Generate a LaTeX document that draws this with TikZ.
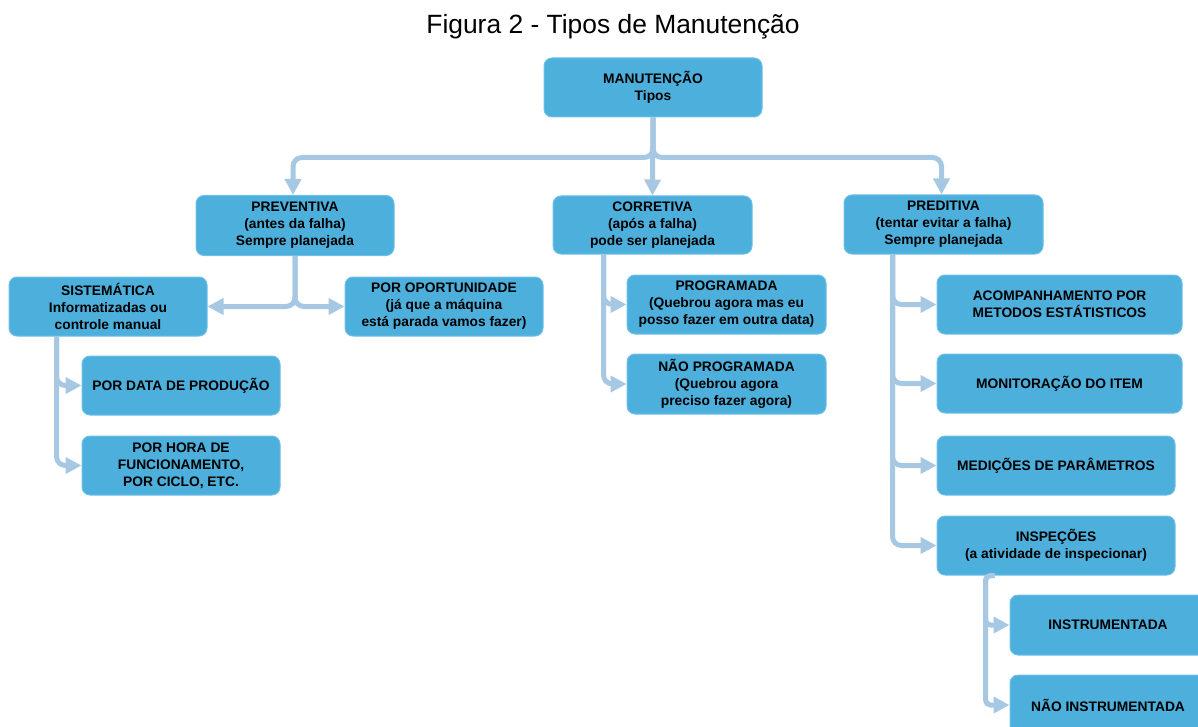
\documentclass[tikz,border=0pt]{standalone}
\usepackage{fontspec}
\setmainfont{Liberation Sans}
\usetikzlibrary{arrows.meta,calc}
\definecolor{boxc}{RGB}{77,175,220}
\definecolor{boxline}{RGB}{110,192,232}
\definecolor{connc}{RGB}{166,200,227}
\tikzset{
  box/.style={rectangle, rounded corners=8pt, fill=boxc, draw=boxline, line width=1pt,
    align=center, inner sep=0pt, font=\fontsize{13.8}{17}\selectfont\bfseries},
  conn/.style={draw=connc, line width=5pt, rounded corners=9pt,
    -{Triangle[length=16pt,width=16pt]}}
}
\begin{document}
\begin{tikzpicture}[x=1pt,y=-1pt]
\useasboundingbox (0,0) rectangle (1198,727);
\clip (0,0) rectangle (1198,727);
\node[font=\fontsize{26.4}{31}\selectfont] (title) at (613,27) {Figura 2 - Tipos de Manutenção};

\node[box, minimum width=218pt, minimum height=59pt] (man) at (653,87.5) {MANUTENÇÃO\\Tipos};

\node[box, minimum width=198pt, minimum height=60pt] (prev) at (295,225.5) {PREVENTIVA\\(antes da falha)\\Sempre planejada};
\node[box, minimum width=199pt, minimum height=58pt] (corr) at (652.5,225) {CORRETIVA\\(após a falha)\\pode ser planejada};
\node[box, minimum width=199pt, minimum height=59pt] (pred) at (943.5,224.5) {PREDITIVA\\(tentar evitar a falha)\\Sempre planejada};

\node[box, minimum width=198pt, minimum height=59pt] (sis) at (108,306.5) {SISTEMÁTICA\\Informatizadas ou\\controle manual};
\node[box, minimum width=198pt, minimum height=59pt] (opo) at (444,306.5) {POR OPORTUNIDADE\\(já que a máquina\\está parada vamos fazer)};
\node[box, minimum width=198pt, minimum height=59pt] (data) at (181,385.5) {POR DATA DE PRODUÇÃO};
\node[box, minimum width=198pt, minimum height=59pt] (hora) at (181,465.5) {POR HORA DE\\FUNCIONAMENTO,\\POR CICLO, ETC.};

\node[box, minimum width=199pt, minimum height=59pt] (prog) at (726.5,304.5) {PROGRAMADA\\(Quebrou agora mas eu\\posso fazer em outra data)};
\node[box, minimum width=199pt, minimum height=60pt] (naop) at (726.5,384) {NÃO PROGRAMADA\\(Quebrou agora\\preciso fazer agora)};

\node[box, minimum width=245pt, minimum height=59pt] (acomp) at (1059.5,304.5) {ACOMPANHAMENTO POR\\METODOS ESTÁTISTICOS};
\node[box, minimum width=245pt, minimum height=59pt] (monit) at (1059.5,383.5) {MONITORAÇÃO DO ITEM};
\node[box, minimum width=238pt, minimum height=59pt] (medic) at (1056,465.5) {MEDIÇÕES DE PARÂMETROS};
\node[box, minimum width=238pt, minimum height=59pt] (insp) at (1056,545.5) {INSPEÇÕES\\(a atividade de inspecionar)};
\node[box, minimum width=196pt, minimum height=60pt] (instr) at (1108,625) {INSTRUMENTADA};
\node[box, minimum width=196pt, minimum height=60pt] (ninstr) at (1108,705) {NÃO INSTRUMENTADA};

% top tree
\coordinate (mj) at ($(man.south)+(0,40)$);
\draw[conn] (man.south) -- (corr.north);
\draw[conn] (man.south) -- (mj) -| ($(prev.north)+(-2,0)$);
\draw[conn] (man.south) -- (mj) -| ($(pred.north)+(-2,0)$);

% preventiva
\draw[conn] (prev.south) |- (sis.east);
\draw[conn] (prev.south) |- (opo.west);

% sistematica
\coordinate (s0) at ($(sis.south west)+(48,0)$);
\draw[conn] (s0) |- (data.west);
\draw[conn] (s0) |- (hora.west);

% corretiva
\coordinate (c0) at ($(corr.south west)+(51,0)$);
\draw[conn] (c0) |- (prog.west);
\draw[conn] (c0) |- (naop.west);

% preditiva
\coordinate (p0) at ($(pred.south west)+(49,0)$);
\draw[conn] (p0) |- (acomp.west);
\draw[conn] (p0) |- (monit.west);
\draw[conn] (p0) |- (medic.west);
\draw[conn] (p0) |- (insp.west);

% inspecoes
\coordinate (i0) at ($(insp.south west)+(58,0)$);
\coordinate (i1) at ($(insp.south west)+(49,0)$);
\draw[conn, rounded corners=5pt] (i0) -- (i1) |- (instr.west);
\draw[conn, rounded corners=5pt] (i0) -- (i1) |- (ninstr.west);
\end{tikzpicture}
\end{document}
